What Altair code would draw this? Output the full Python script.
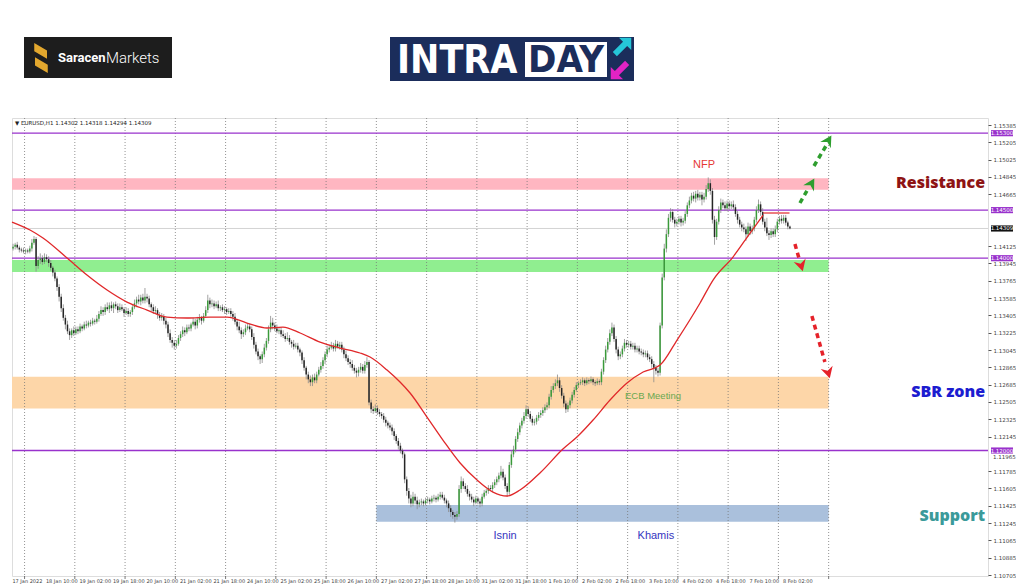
import altair as alt
import pandas as pd

# ---------------- data (prices stored as pips above 1.1000) ----------------
close_pips = [
    412, 414, 411, 409, 408, 407, 408, 407, 410, 416, 420,
    392, 398, 400, 396, 401, 399, 395,
    390, 385, 379, 370, 360,
    348, 338, 331,
    324, 320, 325, 322, 326, 324,
    329, 327, 331, 330, 333, 332, 335, 334, 337,
    342, 346, 344, 349, 347, 351, 348, 352, 350, 346, 349,
    347, 343, 345, 342, 344,
    349, 353, 357, 355, 359, 356, 360, 358,
    352, 349, 345, 346, 341, 338, 340, 335, 331,
    322, 315, 312, 309, 311,
    317, 321, 325, 323, 328,
    327, 331, 334, 330, 336, 338, 335, 340,
    346, 356, 352,
    353, 350, 352, 348, 349, 346, 347, 344, 345, 342,
    339, 334, 329, 325, 321, 323,
    327, 329, 326,
    318, 310, 303, 298, 295,
    300, 307, 314,
    326, 333, 330,
    327, 324, 325,
    321, 319, 316, 317, 313, 311, 308, 309, 305, 302,
    294, 286, 279, 274, 271,
    276, 273, 279, 284, 288,
    294, 300, 305,
    307, 309, 306, 311, 308, 310,
    305, 300, 296, 292, 290, 286, 283, 281,
    284, 287, 283, 289, 292,
    250, 243,
    241, 244, 240, 238,
    236, 232, 229, 226, 224, 220,
    215, 210, 205, 200, 196,
    170, 158,
    150, 145, 152, 148, 144,
    146, 147, 145, 148, 149, 147, 150, 151, 149, 152, 154,
    151, 148, 145,
    140, 136, 133, 131, 134,
    160, 168,
    163, 160, 155, 152,
    149, 146, 150, 147, 145,
    152, 156, 158, 161, 160, 164,
    167, 170, 174, 178, 172,
    163, 157,
    185, 196, 201,
    212, 219, 226, 231, 236,
    243, 238, 233, 229,
    230, 234, 237, 239,
    242, 245, 247,
    256, 263, 267,
    270, 273, 265,
    257, 249, 243, 247,
    252, 258, 263,
    268, 270, 271, 273, 270, 273, 272, 274, 271,
    270, 272, 271,
    282, 294, 305, 313,
    322, 328,
    316, 305, 298, 300,
    306, 312, 310,
    311, 308, 309, 305, 306, 303,
    302, 300, 301, 297, 295,
    290, 286, 283, 281,
    330, 380, 410, 425,
    442, 448,
    440, 436, 438, 441, 437, 439,
    446, 455, 460,
    465, 462, 467, 463, 466,
    461, 464,
    472, 478, 470,
    440, 422,
    438, 450, 458,
    455, 452, 457, 454, 456, 453,
    446, 440, 435,
    432, 430, 425, 433, 428, 431,
    440, 450, 456, 448,
    438, 432, 426, 424, 428,
    425, 430,
    438, 441, 439, 442, 437,
    433, 431,
]
wick_up = [
    3, 2, 3, 2, 2, 3, 2, 2, 3, 4, 3,
    2, 4, 5, 3, 4, 3, 3,
    3, 2, 3, 2, 3,
    3, 4, 3,
    4, 3, 2, 4, 3, 3,
    3, 2, 3, 4, 2, 3, 3, 2, 4,
    3, 4, 3, 3, 5, 3, 4, 2, 3, 3, 4,
    3, 2, 4, 3, 2,
    3, 4, 3, 5, 3, 4, 9, 3,
    3, 2, 3, 4, 2, 3, 3, 2, 3,
    3, 4, 3, 3, 4,
    3, 3, 4, 3, 3,
    3, 2, 4, 3, 3, 4, 2, 3,
    4, 6, 3,
    4, 3, 3, 4, 2, 3, 3, 2, 3, 3,
    3, 4, 3, 5, 3, 3,
    4, 3, 3,
    3, 4, 3, 3, 2,
    3, 4, 3,
    4, 7, 5,
    3, 4, 3,
    3, 4, 3, 6, 3, 2, 4, 3, 3, 2,
    2, 3, 2, 3, 4,
    3, 4, 3, 3, 4,
    3, 3, 4,
    3, 4, 3, 4, 3, 3,
    3, 3, 4, 3, 3, 4, 3, 3,
    3, 4, 3, 4, 5,
    2, 3,
    3, 4, 3, 3,
    2, 3, 3, 2, 3, 3,
    3, 2, 3, 3, 2,
    2, 3,
    3, 4, 5, 3, 4,
    3, 3, 2, 3, 3, 2, 3, 3, 2, 3, 3,
    3, 3, 2,
    3, 3, 2, 3, 3,
    4, 5,
    3, 3, 4, 3,
    3, 3, 3, 2, 3,
    3, 3, 2, 3, 3, 3,
    3, 3, 3, 6, 3,
    3, 3,
    3, 4, 4,
    3, 4, 3, 3, 4,
    4, 3, 3, 3,
    3, 3, 3, 3,
    3, 3, 3,
    3, 4, 3,
    4, 6, 3,
    3, 3, 3, 3,
    3, 3, 3,
    3, 2, 3, 3, 2, 3, 2, 3, 2,
    2, 3, 2,
    3, 3, 4, 4,
    4, 5,
    3, 3, 3, 3,
    3, 4, 3,
    3, 3, 3, 3, 3, 3,
    3, 3, 3, 3, 3,
    3, 3, 3, 3,
    3, 4, 5, 5,
    4, 4,
    3, 3, 3, 3, 3, 3,
    3, 3, 4,
    3, 4, 3, 4, 3,
    3, 4,
    4, 6, 4,
    3, 4,
    3, 4, 4,
    3, 4, 3, 3, 3, 4,
    3, 3, 3,
    3, 4, 3, 4, 3, 3,
    3, 4, 5, 3,
    4, 3, 10, 3, 3,
    3, 4,
    3, 3, 4, 3, 3,
    2, 1,
]
wick_dn = [
    2, 3, 2, 3, 2, 2, 3, 2, 2, 3, 2,
    6, 3, 4, 3, 2, 3, 4,
    3, 4, 3, 4, 5,
    4, 3, 5,
    3, 5, 3, 3, 2, 3,
    2, 3, 2, 3, 2, 3, 2, 3, 2,
    3, 2, 4, 3, 2, 4, 3, 5, 3, 3, 2,
    2, 4, 2, 3, 3,
    3, 2, 4, 3, 4, 3, 3, 4,
    3, 4, 3, 2, 4, 3, 3, 4, 4,
    4, 3, 5, 4, 3,
    2, 3, 3, 4, 2,
    3, 3, 2, 4, 3, 3, 4, 2,
    2, 3, 4,
    3, 3, 2, 3, 3, 2, 4, 3, 2, 3,
    4, 3, 4, 3, 5, 3,
    3, 2, 3,
    3, 4, 3, 4, 5,
    4, 3, 3,
    3, 3, 4,
    3, 2, 3,
    3, 2, 3, 2, 3, 4, 3, 2, 3, 4,
    4, 3, 5, 4, 4,
    4, 3, 3, 2, 3,
    3, 4, 3,
    3, 2, 3, 3, 2, 3,
    3, 4, 3, 3, 4, 3, 3, 5,
    4, 3, 3, 3, 3,
    3, 4,
    3, 2, 3, 3,
    3, 3, 4, 3, 3, 4,
    4, 3, 4, 3, 4,
    4, 5,
    5, 4, 3, 4, 5,
    3, 3, 3, 2, 3, 3, 2, 3, 3, 2, 3,
    2, 3, 4,
    4, 5, 4, 6, 3,
    3, 4,
    3, 3, 3, 4,
    3, 4, 2, 3, 4,
    3, 2, 3, 3, 2, 3,
    3, 3, 3, 3, 3,
    3, 5,
    3, 3, 3,
    3, 3, 3, 3, 3,
    3, 3, 3, 3,
    3, 3, 3, 3,
    3, 3, 3,
    3, 3, 3,
    3, 3, 4,
    3, 4, 4, 3,
    3, 3, 3,
    2, 3, 2, 3, 3, 2, 3, 2, 3,
    3, 2, 3,
    3, 3, 3, 3,
    3, 3,
    3, 4, 4, 3,
    3, 3, 3,
    3, 3, 3, 3, 3, 3,
    3, 3, 3, 3, 3,
    4, 15, 4, 4,
    3, 3, 3, 4,
    3, 4,
    3, 4, 3, 3, 4, 3,
    3, 3, 3,
    3, 3, 4, 3, 3,
    6, 3,
    3, 3, 4,
    4, 8,
    3, 3, 3,
    3, 3, 3, 4, 3, 3,
    3, 4, 3,
    4, 3, 7, 3, 4, 3,
    3, 3, 3, 4,
    3, 4, 3, 5, 3,
    3, 3,
    3, 3, 3, 3, 3,
    3, 1,
]
first_open_pips = 410

# moving average (red line): candle index, pips
ma_idx = [-0.5, 8.1, 14.3, 25.8, 35.3, 44.9, 54.4, 64.0, 73.5, 83.1, 94.1, 102.2,
          111.7, 121.3, 128.9, 137.1, 146.6, 156.2, 165.7, 170.5, 178.6, 184.8,
          189.6, 197.7, 205.3, 213.5, 221.6, 229.2, 235.9, 242.1, 252.1, 262.6,
          269.3, 277.0, 285.1, 293.2, 300.9, 309.0, 317.1, 328.1, 334.3, 343.8,
          352.0, 358.2]
ma_pips = [437.6, 429.3, 421.0, 400.2, 382.5, 366.9, 354.4, 346.1, 338.8, 337.8,
           338.8, 338.8, 332.6, 327.4, 328.4, 322.2, 312.8, 306.6, 301.4, 297.2,
           283.7, 271.2, 259.8, 234.8, 210.9, 187.0, 169.3, 156.8, 152.7, 158.9,
           177.6, 201.5, 214.0, 231.7, 252.5, 270.2, 281.6, 288.9, 314.9, 353.4,
           377.3, 401.2, 426.2, 444.9]

x_labels = ["17 Jan 2022", "18 Jan 10:00", "19 Jan 02:00", "19 Jan 18:00",
            "20 Jan 10:00", "21 Jan 02:00", "21 Jan 18:00", "24 Jan 10:00",
            "25 Jan 02:00", "25 Jan 18:00", "26 Jan 10:00", "27 Jan 02:00",
            "27 Jan 18:00", "28 Jan 10:00", "31 Jan 02:00", "31 Jan 18:00",
            "1 Feb 10:00", "2 Feb 02:00", "2 Feb 18:00", "3 Feb 10:00",
            "4 Feb 02:00", "4 Feb 18:00", "7 Feb 10:00", "8 Feb 02:00"]

zone_names = ["resistance", "support_green", "sbr", "support"]
zone_start = [-0.5, -0.5, -0.5, 173.5]
zone_end = [389.5, 389.5, 389.5, 389.5]
zone_lo = [1.14711, 1.13856, 1.12438, 1.11260]
zone_hi = [1.14831, 1.13981, 1.12767, 1.11433]
zone_colors = ["#ffb6c1", "#90ee90", "#fdd6a8", "#aac0dc"]

level_prices = [1.15300, 1.14500, 1.14000, 1.12000]
current_price = 1.14309

# right-axis tick labels (those hidden behind the price boxes are left out)
y_ticks = [1.15385, 1.15205, 1.15025, 1.14845, 1.14665, 1.14125, 1.13945,
           1.13765, 1.13585, 1.13405, 1.13225, 1.13045, 1.12865, 1.12685,
           1.12505, 1.12325, 1.12145, 1.11785, 1.11605, 1.11425, 1.11245,
           1.11065, 1.10885, 1.10705]
y_tick_partial = "1.11965"
y_tick_partial_pos = 1.11932

# annotation texts
note_text = ["NFP", "ECB Meeting", "Isnin", "Khamis"]
note_idx = [330.0, 305.6, 235.0, 307.0]
note_price = [1.14969, 1.12567, 1.11111, 1.11111]
note_color = ["#e53935", "#6aa84f", "#3535c0", "#3535c0"]
note_size = [11, 9.5, 11, 11]

zone_text = ["Resistance", "SBR zone", "Support"]
zone_text_price = [1.14782, 1.12608, 1.11319]
zone_text_color = ["#8e1414", "#1c1cd0", "#3b9a9a"]

# dashed arrows (candle index / price)
arr_x0 = [375.8, 382.5, 373.4, 381.5]
arr_y0 = [1.14574, 1.14959, 1.14147, 1.13399]
arr_x1 = [379.6, 388.2, 375.3, 387.7]
arr_y1 = [1.14719, 1.15167, 1.14002, 1.12920]
head_x = [381.1, 389.2, 376.3, 389.2]
head_y = [1.14771, 1.15219, 1.13929, 1.12816]
head_angle = [30, 31, 164, 164]
arr_color = ["#2e9e2e", "#2e9e2e", "#e5222a", "#e5222a"]

# ---------------- build tables ----------------
n = len(close_pips)
wu = (wick_up + [3] * n)[:n]
wd = (wick_dn + [3] * n)[:n]
opens = [first_open_pips] + close_pips[:-1]
rows = []
for i in range(n):
    o, c = opens[i], close_pips[i]
    rows.append(dict(
        i=i,
        open=1.1 + o / 1e4,
        close=1.1 + c / 1e4,
        high=1.1 + (max(o, c) + wu[i]) / 1e4,
        low=1.1 + (min(o, c) - wd[i]) / 1e4,
        col="#3a9a3a" if c >= o else "#262626",
    ))
candles = pd.DataFrame(rows)
ma = pd.DataFrame({"i": ma_idx, "p": [1.1 + v / 1e4 for v in ma_pips]})
zones = pd.DataFrame({"name": zone_names, "x0": zone_start, "x1": zone_end,
                      "lo": zone_lo, "hi": zone_hi, "col": zone_colors})
grid = pd.DataFrame({"i": [5.5 + 24 * k for k in range(17)]})
levels = pd.DataFrame({"p": level_prices})
cur = pd.DataFrame({"p": [current_price]})
xl = pd.DataFrame({"i": [16 * k - 0.3 for k in range(len(x_labels))], "t": x_labels})
notes = pd.DataFrame({"t": note_text, "i": note_idx, "p": note_price,
                      "col": note_color, "sz": note_size})
ztext = pd.DataFrame({"t": zone_text, "i": [464.2] * 3, "p": zone_text_price,
                      "col": zone_text_color})
arrows = pd.DataFrame({"x0": arr_x0, "y0": arr_y0, "x1": arr_x1, "y1": arr_y1,
                       "hx": head_x, "hy": head_y, "ang": head_angle, "col": arr_color})
hl_price = [1.15300, 1.14500, current_price, 1.14000, 1.12000]
hl_col = ["#9932cc", "#9932cc", "#111111", "#9932cc", "#9932cc"]
hl = pd.DataFrame({"p": hl_price, "col": hl_col,
                   "lo": [v - 0.00032 for v in hl_price],
                   "hi": [v + 0.00032 for v in hl_price],
                   "t": [f"{v:.5f}" for v in hl_price]})
partial = pd.DataFrame({"p": [y_tick_partial_pos], "t": [y_tick_partial]})
redseg = pd.DataFrame({"x0": [358.2], "x1": [370.8], "p": [1.14470]})
one = pd.DataFrame({"a": [0]})

# ---------------- scales ----------------
W, H = 976, 458
xs = alt.Scale(domain=[-0.5, 465.6], nice=False, zero=False)
ys = alt.Scale(domain=[1.10695, 1.15458], nice=False, zero=False)
yaxis = alt.Axis(orient="right", values=y_ticks, format=".5f", labelFontSize=5.5,
                 labelColor="#444444", labelFont="DejaVu Sans", tickSize=3,
                 tickColor="#555555", domain=False, grid=False, title=None,
                 labelPadding=2, labelOverlap=False, labelFlush=False)


def X(f):
    return alt.X(f, type="quantitative", scale=xs, axis=None)


def Y(f):
    return alt.Y(f, type="quantitative", scale=ys, axis=yaxis)


zone_layer = alt.Chart(zones).mark_rect().encode(
    x=X("x0"), x2="x1", y=Y("lo"), y2="hi",
    color=alt.Color("col:N", scale=None))

grid_layer = alt.Chart(grid).mark_rule(color="#777777", strokeDash=[1, 2],
                                       strokeWidth=0.8).encode(
    x=X("i"), y=alt.value(0), y2=alt.value(H))

tick_layer = alt.Chart(grid).mark_rule(color="#555555", strokeWidth=0.8).encode(
    x=X("i"), y=alt.value(H), y2=alt.value(H + 3))

level_layer = alt.Chart(levels).mark_rule(color="#9932cc", strokeWidth=1.3).encode(
    y=Y("p"), x=alt.value(0), x2=alt.value(W))

cur_layer = alt.Chart(cur).mark_rule(color="#c8c8c8", strokeWidth=0.8).encode(
    y=Y("p"), x=alt.value(0), x2=alt.value(W))

wick_layer = alt.Chart(candles).mark_rule(color="#8a8a8a", strokeWidth=0.8).encode(
    x=X("i"), y=Y("low"), y2="high")

body_layer = alt.Chart(candles).mark_rule(strokeWidth=1.5).encode(
    x=X("i"), y=Y("open"), y2="close", color=alt.Color("col:N", scale=None))

ma_layer = alt.Chart(ma).mark_line(color="#e0282a", strokeWidth=1.3,
                                   interpolate="monotone").encode(
    x=X("i"), y=Y("p"))

redseg_layer = alt.Chart(redseg).mark_rule(color="#e0282a", strokeWidth=1.2).encode(
    x=X("x0"), x2="x1", y=Y("p"))

arrow_layer = alt.Chart(arrows).mark_rule(strokeWidth=3.5, strokeDash=[5, 4]).encode(
    x=X("x0"), y=Y("y0"), x2="x1", y2="y1", color=alt.Color("col:N", scale=None))

head_layer = alt.Chart(arrows).mark_point(
    shape="M0,-1L0.95,0.75L0,0.2L-0.95,0.75Z", filled=True, opacity=1, size=170
).encode(x=X("hx"), y=Y("hy"), angle=alt.Angle("ang:Q", scale=None),
         color=alt.Color("col:N", scale=None))

note_layer = alt.Chart(notes).mark_text(font="Liberation Sans", align="center",
                                        baseline="middle").encode(
    x=X("i"), y=Y("p"), text="t:N", color=alt.Color("col:N", scale=None),
    size=alt.Size("sz:Q", scale=None))

ztext_layer = alt.Chart(ztext).mark_text(font="Open Sans", fontWeight=800, fontSize=16,
                                         align="right", baseline="middle").encode(
    x=X("i"), y=Y("p"), text="t:N", color=alt.Color("col:N", scale=None))

hl_box = alt.Chart(hl).mark_rect().encode(
    y=Y("lo"), y2="hi", x=alt.value(W + 3), x2=alt.value(W + 25),
    color=alt.Color("col:N", scale=None))

hl_text = alt.Chart(hl).mark_text(fontSize=5.5, color="white", font="DejaVu Sans",
                                  align="center", baseline="middle").encode(
    y=Y("p"), x=alt.value(W + 14), text="t:N")

partial_text = alt.Chart(partial).mark_text(fontSize=5.5, color="#444444",
                                            font="DejaVu Sans", align="left",
                                            baseline="middle").encode(
    y=Y("p"), x=alt.value(W + 5), text="t:N")

xlab_layer = alt.Chart(xl).mark_text(fontSize=5, color="#444444", font="DejaVu Sans",
                                     align="left", baseline="top").encode(
    x=X("i"), y=alt.value(H + 3), text="t:N")

info_layer = alt.Chart(one).mark_text(
    text="\u25BC EURUSD,H1  1.14302 1.14318 1.14294 1.14309", fontSize=5.5,
    color="#222222", font="DejaVu Sans", align="left", baseline="middle"
).encode(x=alt.value(3), y=alt.value(5))

# ---------------- header logos ----------------
sar_box = alt.Chart(one).mark_rect(color="#1d1d1d").encode(
    x=alt.value(12), x2=alt.value(160), y=alt.value(-81), y2=alt.value(-40))
sar_s = alt.Chart(one).mark_point(
    shape="M-0.45,-1L0.4,-0.5L0.4,0.05L-0.45,-0.45Z M-0.4,-0.05L0.45,0.45L0.45,1L-0.4,0.5Z",
    filled=True, color="#e2a72e", opacity=1, size=900
).encode(x=alt.value(29), y=alt.value(-60))
sar_t1 = alt.Chart(one).mark_text(text="Saracen", font="Roboto", fontWeight="bold",
                                  fontSize=13, color="white", align="left",
                                  baseline="middle").encode(x=alt.value(46), y=alt.value(-60))
sar_t2 = alt.Chart(one).mark_text(text="Markets", font="Roboto", fontWeight=300,
                                  fontSize=15, color="white", align="left",
                                  baseline="middle").encode(x=alt.value(94), y=alt.value(-60))

intra_box = alt.Chart(one).mark_rect(color="#1b2d5b").encode(
    x=alt.value(378), x2=alt.value(622), y=alt.value(-81), y2=alt.value(-37))
day_box = alt.Chart(one).mark_rect(color="white").encode(
    x=alt.value(513), x2=alt.value(595), y=alt.value(-76), y2=alt.value(-41))
intra_t = alt.Chart(one).mark_text(
    text="INTRA", font="Liberation Sans Narrow, DejaVu Sans Condensed, Roboto",
    fontWeight="bold", fontSize=39, color="white", align="left", baseline="middle"
).encode(x=alt.value(385), y=alt.value(-57))
day_t = alt.Chart(one).mark_text(
    text="DAY", font="Liberation Sans Narrow, DejaVu Sans Condensed, Roboto",
    fontWeight="bold", fontSize=38, color="#1b2d5b", align="center", baseline="middle"
).encode(x=alt.value(554), y=alt.value(-57))
cyan_arrow = alt.Chart(one).mark_point(
    shape="M-0.2,-1L1,-1L1,0.2L0.6,-0.2L-0.4,0.8L-0.8,0.4L0.2,-0.6Z",
    filled=True, color="#25c6d8", opacity=1, size=420
).encode(x=alt.value(609), y=alt.value(-70))
mag_arrow = alt.Chart(one).mark_point(
    shape="M0.2,1L-1,1L-1,-0.2L-0.6,0.2L0.4,-0.8L0.8,-0.4L-0.2,0.6Z",
    filled=True, color="#e223c4", opacity=1, size=420
).encode(x=alt.value(609), y=alt.value(-49))

chart = alt.layer(
    zone_layer, grid_layer, tick_layer, level_layer, cur_layer,
    wick_layer, body_layer, ma_layer, redseg_layer,
    arrow_layer, head_layer, note_layer, ztext_layer,
    hl_box, hl_text, partial_text, xlab_layer, info_layer,
    sar_box, sar_s, sar_t1, sar_t2, intra_box, day_box, intra_t, day_t,
    cyan_arrow, mag_arrow,
).properties(
    width=W, height=H,
    autosize=alt.AutoSizeParams(type="none"),
    padding={"left": 4, "top": 110, "right": 28, "bottom": 8},
).configure_view(stroke="#444444", strokeWidth=0.8).configure(background="white")

chart.save("out.html", embed_options={"renderer": "svg", "actions": False})
